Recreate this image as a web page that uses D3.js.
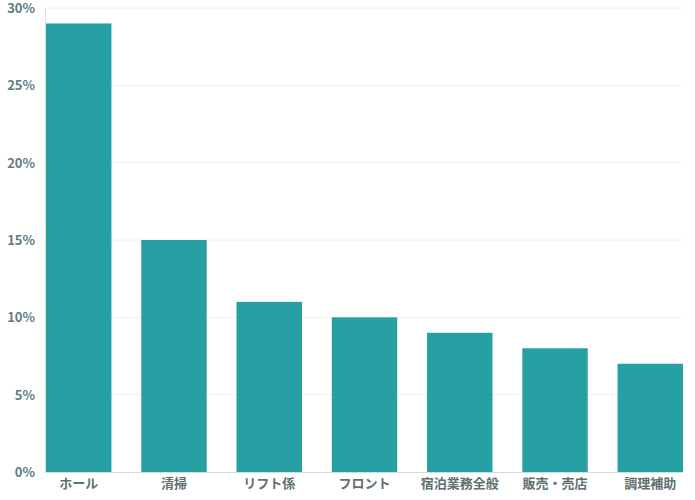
<!DOCTYPE html>
<html><head><meta charset="utf-8">
<script src="https://cdn.jsdelivr.net/npm/d3@7"></script>
<style>body{margin:0;background:#fff}svg{display:block}</style>
</head><body>
<svg id="c" width="695" height="500"></svg>
<script>
const categories = ["ホール","清掃","リフト係","フロント","宿泊業務全般","販売・売店","調理補助"];
const values = [29,15,11,10,9,8,7];
const yTicks = [0,5,10,15,20,25,30];

const svg = d3.select("#c");
const x0 = 46, x1 = 683, yTop = 8, yBottom = 472;
const x = d3.scaleBand().domain(categories).range([x0, x1]).paddingInner(0.313).paddingOuter(0);
const y = d3.scaleLinear().domain([0,30]).range([yBottom, yTop]);
const font = "'Noto Sans CJK JP','Noto Sans',sans-serif";

// grid
svg.append("g").selectAll("line").data(yTicks.filter(d=>d>0)).join("line")
  .attr("x1", 45).attr("x2", x1).attr("y1", d=>y(d)).attr("y2", d=>y(d))
  .attr("stroke", "#eef1f1").attr("stroke-width", 1);

// bars
svg.append("g").selectAll("rect").data(values).join("rect")
  .attr("x", (d,i)=>x(categories[i])).attr("width", x.bandwidth())
  .attr("y", d=>y(d)).attr("height", d=>yBottom - y(d))
  .attr("fill", "#26a0a2");

// left axis line
svg.append("line").attr("x1",45.5).attr("x2",45.5).attr("y1",yTop).attr("y2",yBottom)
  .attr("stroke","#d6e3e3");
// baseline
svg.append("line").attr("x1",45).attr("x2",x1).attr("y1",yBottom+0.5).attr("y2",yBottom+0.5)
  .attr("stroke","#cfdede");

// y labels
const yAxis = d3.axisLeft(y).tickValues(yTicks).tickFormat(d=>d+"%").tickSize(0).tickPadding(0);
const ga = svg.append("g").attr("transform","translate(35,0)").call(yAxis);
ga.select(".domain").remove();
ga.selectAll("text").attr("font-family",font).attr("font-size",13).attr("font-weight",700)
  .attr("fill","#5e7d7d").attr("dy","0.35em");

// x labels
const xAxis = d3.axisBottom(x).tickSize(0).tickPadding(0);
const gx = svg.append("g").attr("transform",`translate(0,${yBottom+7})`).call(xAxis);
gx.select(".domain").remove();
gx.selectAll("text").attr("font-family",font).attr("font-size",13).attr("font-weight",700)
  .attr("fill","#5e7070").attr("dy","0.71em");
</script>
</body></html>
